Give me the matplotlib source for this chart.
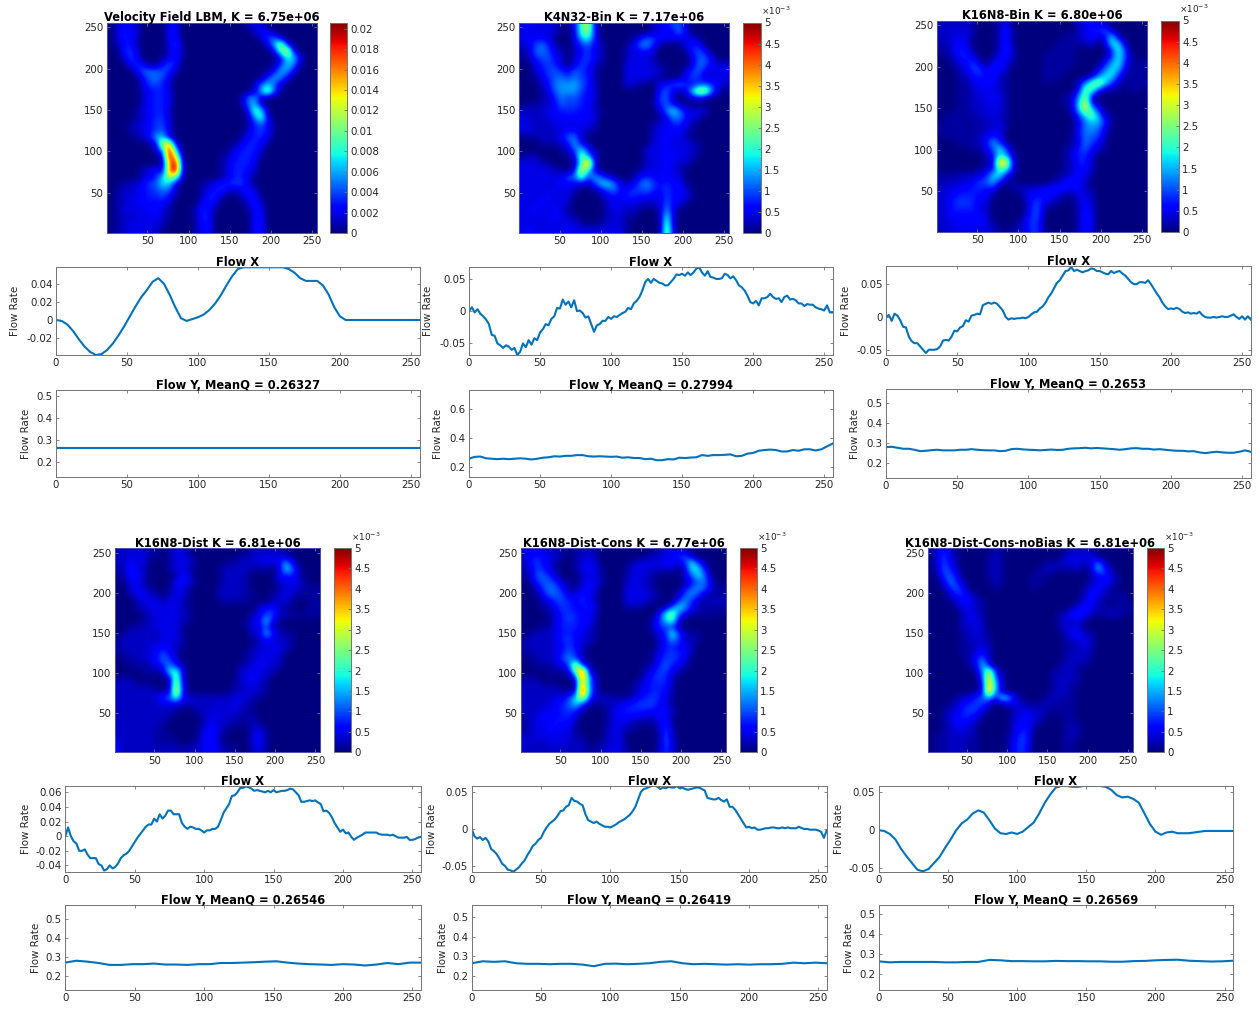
import numpy as np
import matplotlib
matplotlib.use("Agg")
import matplotlib.pyplot as plt

W, H = 1258, 1011
INK = (0.15, 0.15, 0.15)
BOX = (0.45, 0.45, 0.45)
LINE = "#0072BD"

titles = ["Velocity Field LBM, K = 6.75e+06", "K4N32-Bin K = 7.17e+06", "K16N8-Bin K = 6.80e+06",
          "K16N8-Dist K = 6.81e+06", "K16N8-Dist-Cons K = 6.77e+06", "K16N8-Dist-Cons-noBias K = 6.81e+06"]
meanq = ["0.26327", "0.27994", "0.2653", "0.26546", "0.26419", "0.26569"]

# Speed fields: one row per 8 cells from y=252 down to y=4, base-36 digits, 33 = top of the colour scale
field_lbm = """02432000 03400000 00000233
02543000 04400000 00000024 40000000
02542000 03500000 00000002 68300000
01452000 03610000 00000000 2ak50000
00463000 02510000 00000000 02em4000
00264000 13510000 00000000 003cb300
00036411 47400000 00000000 016b8100
00003787 75200000 00000000 14a93000
00000478 63000000 00000001 5a830000
00000366 52000000 00000027 b7200000
00000245 53000000 0000002a i7100000
00000245 53000000 00001892
00000245 53000000 000017b3
00001345 52000000 000003fc 10000000
00001245 62000000 0000018f 30000000
00012346 63000000 00000157 41000000
00012346 73000000 00000256 41000000
0000124a b3000000 00001455 30000000
00000013 mn300000 00013554 10000000
00000002 8xb00000 00135552
00000000 2wm10000 01245541
00000000 1ox20000 01355530
00000235 2qx20000 01355420
00000235 bjg20000 01355310
00122467 cb300012 35566300
01223456 87200013 55323530
01233455 64100025 52002441
01233444 42000035 30000252
01333344 31000254 10000144
01223334 21000155 00000044
01233333 20000145 00000045
01233332 10000145 00000045"""

field_k4n32 = """34333210 4ek40000 00002346 72000000
33333300 3ei50000 00002344 83000000
34443000 3ad50000 01476443 33310000
23685200 25742000 13895100 13540000
12786320 24632000 23342000 01574000
11567420 25642000 23332000 00377300
00356530 36521000 33332100 00386333
00246754 76420000 33333210 03673333
00135786 86520000 33332100 14652333
00024899 a7520000 32100356 85467532
00013799 96430000 00000573 13clj720
00012586 75430000 00000672 01231000
01122476 65420000 00001574 11000000
22223455 54421000 0000028c 83332000
32223344 44430000 00000138 84320000
33222333 33320000 00001335 53100000
33222234 43210000 00002344 42100000
01122247 82000000 00002343 32000000
00011124 a4200000 00003343 33210000
00000012 6d520000 00033343 33210000
12200001 2hb30000 00023344 33200000
33321000 1ds40000 00023343 22000000
33333210 3mc30000 00133343 20000000
33333337 8g6a7310 01454343 30000000
33333344 3325bc83 23796454 41000000
33333333 20013684 46675464 43000000
33334333 00001343 55443364 43100000
33343332 00000243 33222374 31000000
33433431 00000233 22100293
33333432 10000223 110001d3
33333333 31001232 100000g2
34333334 33333333 100000i3"""

field_bin = """22222100 01400000 00000234 31000000
22323100 02510000 00000235 57200000
22333100 02510000 00011234 34b20000
12343000 02510000 00111123 02db2000
11354100 02620000 01111000 005e6000
01255300 13420000 11111000 015c7100
00134630 35310000 11111000 049d5111
00023663 54200000 11110000 38ca3111
00012454 42100000 11100002 8cc51111
00011344 42100000 1000028f jc621111
00011233 32100000 000003gf 62110110
00011233 43100000 000128h4
00011223 33100000 00012bl3 10000000
00011223 33100000 00002alc 41000000
01111122 32100000 000015bg a2100000
01111112 23100000 0000038a a5100000
11111112 33100000 00000489 73000000
01111123 44000000 00001487 62000000
00011124 a5100000 00001386 41000000
00000113 6d610000 00012574 21000000
00000002 4ca20000 00013553
00000001 2om40000 00012552
00000012 4fd40000 00012442
11122235 bc410000 00123431
12223467 a4110000 01245420
23344554 40012233 45543421
23455544 10000344 54211332
23566533 00000156 32100242
23555532 00000166 10000243
23444443 00000266 00000253
23344443 10001465 00000153
22333333 21012365 00000253"""

field_dist = """22323110 13310000 00000222 22100000
22333110 13320000 00012233 33210000
22423000 13331000 01122233 33a40000
12532000 13320000 12222111 02b82000
11542000 01430000 12221000 04452000
01332000 04431000 12221000 02333100
00342100 13310000 22221000 01332111
00134220 23310000 22221100 12321111
00023332 33200000 11111000 22310011
00012333 33210000 00000034 52100011
00001233 33210000 00000236 62211111
00001233 33210000 0000134b 41000000
00112233 33100000 00001337 11000000
01222223 33100000 0000023a 52110000
12222223 33100000 00000124 32210000
12222334 32100000 00000123 33210000
11222346 42000000 00001233 33100000
01122348 53000000 00001233 32000000
00111235 94200000 00012343 22000000
00001112 cf300000 00023332 20000000
11100000 2i300000 00023432
22211100 1k400000 00123321
22222211 2n400000 00122321
22222236 7e432222 22333110
22222223 33222222 32331100
22222222 21001223 23321100
22222222 10000133 32211100
22222221 00000133 22111210
22222211 00000244 21000231
22222211 10000344 10000341
32222211 11001344 10000341
41222222 22122344 21100231"""

field_cons = """34332210 12210000 00000233 32000000
24543210 12320000 00012233 57200000
24643100 13330000 02333344 35d62000
13653100 13431000 13332222 02cc5000
12775200 02331000 13321000 036c8100
01577521 02432000 23321000 01478300
00268741 13430000 33321000 04797311
00147763 35420000 33332100 27962111
00023665 45420000 33321000 69521222
00012465 44530000 11100028 c9421111
00001356 54420000 000004di 73111110
00001356 54420000 000025be 30000000
00011355 54310000 00002566 10000000
01222355 43210000 0000135d 62110000
12222356 43210000 00000249 62210000
12222346 42100000 00000255 43200000
11222357 52000000 00001356 54200000
01122369 62000000 00001466 53000000
00111236 m5300000 00012575 32000000
00001113 fw410000 00024663 20000000
11100000 3rb20000 00135652
22211100 1ra30000 01245552
22222211 2wb30000 01345541
22222336 bm822211 12456531
22223457 c6211223 45666431
22233456 52000134 55554442
12344455 30000134 44322441
12334544 10000133 31111351
12334433 10000233 11000262
22333333 11000233 00000172
32223332 22001233 00000173
22222222 22112333 10000263"""

field_nobias = """03521000 00110000 00000122 21000000
03631000 01210000 00000233 33100000
03641000 01210000 00112333 23830000
02752000 01210000 01221112 02a62000
01674000 01210000 11100000 01353100
00385200 00210000 11000000 02343100
00157400 00100000 10000000 13431000
00025531 00000000 00000000 25321110
00012442 10000000 00000001 34210110
00001332 10000000 00000013 53211111
00000233 10000000 00001255 42112210
00000233 20000000 00001323 10000000
00000223 20000000 00001323 00000000
00000123 21000000 00000244 21000000
00000122 21000000 00000123 32000000
00000112 32000000 00000112 32000000
00000113 42000000 00000122 21000000
00000024 82000000 00000122 21000000
00000013 b5000000 00001221 10000000
00000001 8k610000 00011221
00000000 6n820000 00012221
00000000 3pb30000 00012211
00000001 3qa20000 00012210
00001235 7a4ca410 00122110
00012456 63013321 11211110
00123566 31000233 22111110
00134553 10000234 32100110
00124432 00000344 21000111
00123321 00000345 10000121
01122221 00001365 00000121
01122211 00001465 00000110
01122211 00001464 00000110"""

# Flow X, evenly sampled across 0..256
flowx_lbm = [0,-.001,-.005,-.012,-.021,-.029,-.035,-.0385,-.0375,-.033,-.026,-.017,-.007,.004,.015,.025,.033,.042,.046,.040,.028,.014,.002,-.001,.001,.003,.006,.011,.018,.027,.038,.048,.056,.058,.058,.058,.058,.058,.058,.058,.058,.056,.052,.046,.043,.043,.043,.038,.028,.014,.004,0,0,0,0,0,0,0,0,0,0,0,0,0,0]
flowx_k4n32 = [0,.006,-.002,.003,-.004,-.008,-.013,-.02,-.037,-.038,-.05,-.053,-.057,-.053,-.055,-.06,-.057,-.068,-.063,-.05,-.056,-.045,-.052,-.042,-.045,-.033,-.028,-.02,-.022,-.012,-.008,.005,.004,.018,.01,.015,.006,.017,0,.001,-.003,-.01,-.008,-.02,-.032,-.022,-.02,-.015,-.015,-.009,-.012,-.008,-.009,-.006,-.003,-.001,.005,.003,.012,.016,.022,.032,.045,.05,.044,.05,.047,.044,.043,.04,.04,.045,.05,.057,.056,.058,.055,.06,.056,.06,.066,.068,.06,.055,.062,.053,.052,.05,.05,.051,.058,.056,.051,.054,.048,.04,.037,.032,.024,.014,.012,.016,.009,.02,.02,.022,.027,.022,.019,.02,.014,.022,.024,.018,.019,.017,.012,.012,.008,.011,.01,.01,.006,.004,.003,.001,.009,-.002,-.002]
flowx_bin = [0,.003,-.006,.005,.002,-.005,-.015,-.016,-.03,-.037,-.04,-.04,-.045,-.05,-.055,-.05,-.05,-.05,-.049,-.045,-.036,-.035,-.036,-.03,-.021,-.022,-.016,-.014,-.005,-.007,.002,.003,.005,.004,.018,.02,.022,.02,.022,.02,.015,.01,0,-.004,-.002,-.003,-.002,-.002,-.001,-.002,0,.004,.007,.008,.013,.016,.022,.03,.036,.044,.052,.056,.063,.07,.071,.076,.07,.072,.07,.068,.07,.071,.074,.073,.07,.07,.068,.066,.065,.07,.067,.069,.07,.066,.063,.058,.053,.05,.05,.053,.053,.052,.056,.05,.043,.036,.03,.022,.016,.012,.013,.012,.014,.012,.008,.006,.007,.005,.006,.005,.008,.003,0,-.001,-.001,0,-.001,0,.001,0,0,.002,.004,0,-.003,.001,-.004,.001,-.004]
flowx_dist = [0,.012,0,-.007,-.01,-.02,-.02,-.018,-.025,-.03,-.03,-.03,-.038,-.04,-.047,-.045,-.04,-.044,-.042,-.037,-.03,-.026,-.024,-.02,-.014,-.008,-.002,.003,.008,.013,.016,.016,.024,.02,.03,.024,.028,.035,.035,.03,.03,.03,.018,.013,.01,.013,.012,.01,.01,.008,.005,.008,.008,.01,.01,.013,.022,.032,.038,.044,.055,.056,.06,.066,.066,.068,.067,.065,.062,.063,.062,.061,.06,.062,.06,.063,.06,.061,.062,.062,.063,.065,.064,.06,.056,.047,.047,.048,.049,.048,.049,.046,.044,.034,.035,.032,.026,.018,.012,.006,.009,.004,.005,-.001,-.005,-.002,0,.002,.005,.005,.005,.005,.005,.003,.002,.002,.002,.001,.002,0,-.002,-.002,-.002,-.001,-.005,-.005,-.004,-.002,-.001]
flowx_cons = [0,-.01,-.013,-.011,-.015,-.012,-.017,-.027,-.03,-.034,-.04,-.047,-.05,-.055,-.056,-.058,-.055,-.052,-.047,-.043,-.036,-.03,-.023,-.02,-.015,-.012,-.004,.002,.007,.01,.013,.018,.024,.025,.03,.032,.042,.038,.037,.034,.032,.02,.012,.01,.008,.01,.007,.005,.003,.003,.002,.004,.006,.009,.011,.013,.016,.019,.024,.03,.04,.05,.054,.055,.057,.058,.059,.057,.054,.056,.055,.057,.056,.056,.058,.055,.056,.054,.053,.054,.055,.056,.056,.054,.052,.042,.041,.04,.04,.042,.039,.037,.04,.03,.03,.026,.02,.014,.008,.002,.003,.001,.002,-.001,-.001,0,.001,.001,.002,.002,.001,.001,.002,.001,.002,.001,.001,.001,.003,.001,0,0,-.001,-.001,-.001,-.002,-.004,-.012,-.002]
flowx_nobias = [0,-.001,-.005,-.012,-.024,-.034,-.043,-.052,-.054,-.051,-.043,-.035,-.023,-.012,0,.009,.014,.022,.026,.023,.013,.002,-.004,-.005,-.003,-.005,-.002,.004,.01,.022,.036,.047,.056,.058,.058,.057,.057,.058,.058,.058,.058,.057,.053,.046,.043,.044,.041,.036,.022,.008,-.002,-.006,-.003,-.002,-.004,-.004,-.004,-.003,-.002,-.001,-.001,-.001,-.001,-.001,-.001]

# Flow Y, evenly sampled across 0..256
flowy_lbm = [.26327]*33
flowy_k4n32 = [.255,.268,.27,.258,.255,.252,.255,.252,.255,.258,.255,.25,.255,.262,.265,.272,.27,.275,.275,.28,.28,.272,.27,.272,.27,.268,.27,.262,.265,.26,.26,.252,.255,.245,.245,.252,.25,.262,.26,.263,.265,.28,.275,.28,.28,.282,.285,.272,.275,.29,.295,.31,.315,.318,.315,.305,.305,.315,.31,.32,.32,.312,.32,.34,.36]
flowy_bin = [.278,.28,.275,.27,.27,.265,.258,.26,.263,.265,.262,.262,.262,.265,.265,.268,.265,.263,.262,.262,.258,.26,.268,.27,.267,.265,.264,.262,.264,.266,.264,.265,.27,.272,.273,.275,.272,.274,.272,.27,.268,.265,.268,.272,.273,.27,.27,.266,.268,.265,.262,.26,.26,.257,.258,.252,.248,.252,.255,.252,.25,.25,.255,.262,.255]
flowy_dist = [.27,.28,.275,.268,.258,.258,.262,.262,.265,.26,.26,.258,.262,.262,.268,.268,.27,.272,.275,.277,.27,.265,.262,.26,.258,.262,.26,.255,.26,.268,.262,.27,.27]
flowy_cons = [.265,.275,.272,.275,.265,.262,.262,.26,.262,.262,.258,.25,.262,.263,.26,.262,.265,.272,.275,.265,.26,.262,.26,.258,.26,.258,.26,.26,.262,.268,.265,.268,.265]
flowy_nobias = [.265,.26,.262,.262,.262,.262,.26,.26,.262,.262,.272,.27,.266,.266,.265,.265,.267,.266,.266,.265,.265,.263,.263,.266,.267,.27,.272,.273,.268,.266,.264,.265,.268]

fields = [field_lbm, field_k4n32, field_bin, field_dist, field_cons, field_nobias]
flowx = [flowx_lbm, flowx_k4n32, flowx_bin, flowx_dist, flowx_cons, flowx_nobias]
flowy = [flowy_lbm, flowy_k4n32, flowy_bin, flowy_dist, flowy_cons, flowy_nobias]
field_max = [0.0206, 5e-3, 5e-3, 5e-3, 5e-3, 5e-3]

# layout, pixels: (x0, x1, y0, y1)
heat_box = [(107,317,22.5,233),(519.3,729.3,22.5,233),(936.7,1147.3,20.5,232),
            (115,320.3,548,752.3),(521,726.3,548,752.3),(927.7,1132.7,548,752.3)]
cbar_x = [(330,347),(743.3,760.7),(1161.3,1178.7),(334.3,351),(739.7,756.7),(1146.7,1163.7)]
fx_box = [(56,419.5,267,355),(469,832.7,267,355),(886,1250.7,266,355),
          (65.3,420.7,785.7,871.7),(471.7,826.7,785.7,871.7),(878.7,1233,785.7,871.7)]
fy_box = [(56,419.5,390,477),(469,832.7,390,477),(886,1250.7,389.3,478),
          (65.3,420.7,905,990),(471.7,826.7,905,990),(878.7,1233,905,990)]
fx_lim = [(-.0385,.0583),(-.068,.0685),(-.058,.0777),(-.0485,.069),(-.0578,.0585),(-.0545,.0584)]
fy_lim = [(.132,.526),(.129,.729),(.124,.567),(.127,.571),(.129,.561),(.123,.544)]
fx_ticks = [[-.02,0,.02,.04],[-.05,0,.05],[-.05,0,.05],[-.04,-.02,0,.02,.04,.06],[-.05,0,.05],[-.05,0,.05]]
fx_labels = [["-0.02","0","0.02","0.04"],["-0.05","0","0.05"],["-0.05","0","0.05"],
             ["-0.04","-0.02","0","0.02","0.04","0.06"],["-0.05","0","0.05"],["-0.05","0","0.05"]]
fy_ticks = [[.2,.3,.4,.5],[.2,.4,.6],[.2,.3,.4,.5],[.2,.3,.4,.5],[.2,.3,.4,.5],[.2,.3,.4,.5]]
fx_lab_px = [20,433,851,31,437,844]
fy_lab_px = [31,443,860,41,448,854]

FS = 7.4
TS = 8.3
plt.rcParams["font.family"] = "DejaVu Sans"
plt.rcParams["font.size"] = FS

fig = plt.figure(figsize=(W/100, H/100), dpi=100)

def add_ax(b):
    x0, x1, y0, y1 = b
    return fig.add_axes([x0/W, 1-y1/H, (x1-x0)/W, (y1-y0)/H])

def style(ax):
    ax.tick_params(direction="in", top=True, right=True, length=2.5, width=0.6,
                   color=BOX, labelcolor=INK, labelsize=FS, pad=2.5)
    for s in ax.spines.values():
        s.set_color(BOX)
        s.set_linewidth(0.7)

def decode(text):
    rows = []
    for line in text.splitlines():
        groups = (line.split() + ["0"]*4)[:4]
        cells = "".join(g.ljust(8, "0")[:8] for g in groups)
        rows.append([int(c, 36) for c in cells])
    return np.array(rows, float) / 33.0

def flow_plot(box, vals, lim, title, lab_px):
    ax = add_ax(box)
    ax.plot(np.linspace(0, 256, len(vals)), vals, color=LINE, lw=1.5, clip_on=True)
    ax.set_xlim(0, 256)
    ax.set_ylim(*lim)
    ax.set_xticks(range(0, 251, 50))
    style(ax)
    ax.set_title(title, fontsize=TS, fontweight="bold", color="k", pad=0.6)
    ax.set_ylabel("Flow Rate", color=INK, fontsize=FS)
    ax.yaxis.set_label_coords((lab_px-box[0])/(box[1]-box[0]), 0.5)
    return ax

for i in range(6):
    ax = add_ax(heat_box[i])
    vmax = field_max[i]
    im = ax.imshow(decode(fields[i])*vmax, cmap="jet", vmin=0, vmax=vmax, origin="upper",
                   extent=(1, 256, 1, 256), aspect="auto", interpolation="bicubic")
    ax.set_xticks(range(50, 251, 50))
    ax.set_yticks(range(50, 251, 50))
    style(ax)
    for s in ax.spines.values():
        s.set_color((0.3, 0.3, 0.7))
    ax.set_title(titles[i], fontsize=TS, fontweight="bold", color="k", pad=1.0)

    b = heat_box[i]
    cax = add_ax((cbar_x[i][0], cbar_x[i][1], b[2], b[3]))
    cb = fig.colorbar(im, cax=cax)
    if i == 0:
        t = [k*0.002 for k in range(11)]
        lab = ["0"] + [f"{v:g}" for v in t[1:]]
    else:
        t = [k*0.0005 for k in range(11)]
        lab = [f"{v*1000:g}" for v in t]
        cax.text(1.02, 1.025, r"$\times 10^{-3}$", transform=cax.transAxes, fontsize=6.4,
                 color=INK, ha="left", va="bottom")
    cb.set_ticks(t, labels=lab)
    cb.ax.tick_params(direction="in", length=2.5, width=0.6, color=BOX, labelcolor=INK,
                      labelsize=FS, pad=2.5)
    cb.outline.set_edgecolor(BOX)
    cb.outline.set_linewidth(0.7)

    ax = flow_plot(fx_box[i], flowx[i], fx_lim[i], "Flow X", fx_lab_px[i])
    ax.set_yticks(fx_ticks[i], labels=fx_labels[i])
    ax = flow_plot(fy_box[i], flowy[i], fy_lim[i], f"Flow Y, MeanQ = {meanq[i]}", fy_lab_px[i])
    ax.set_yticks(fy_ticks[i], labels=[f"{v:g}" for v in fy_ticks[i]])

fig.savefig("out.png", dpi=100)
